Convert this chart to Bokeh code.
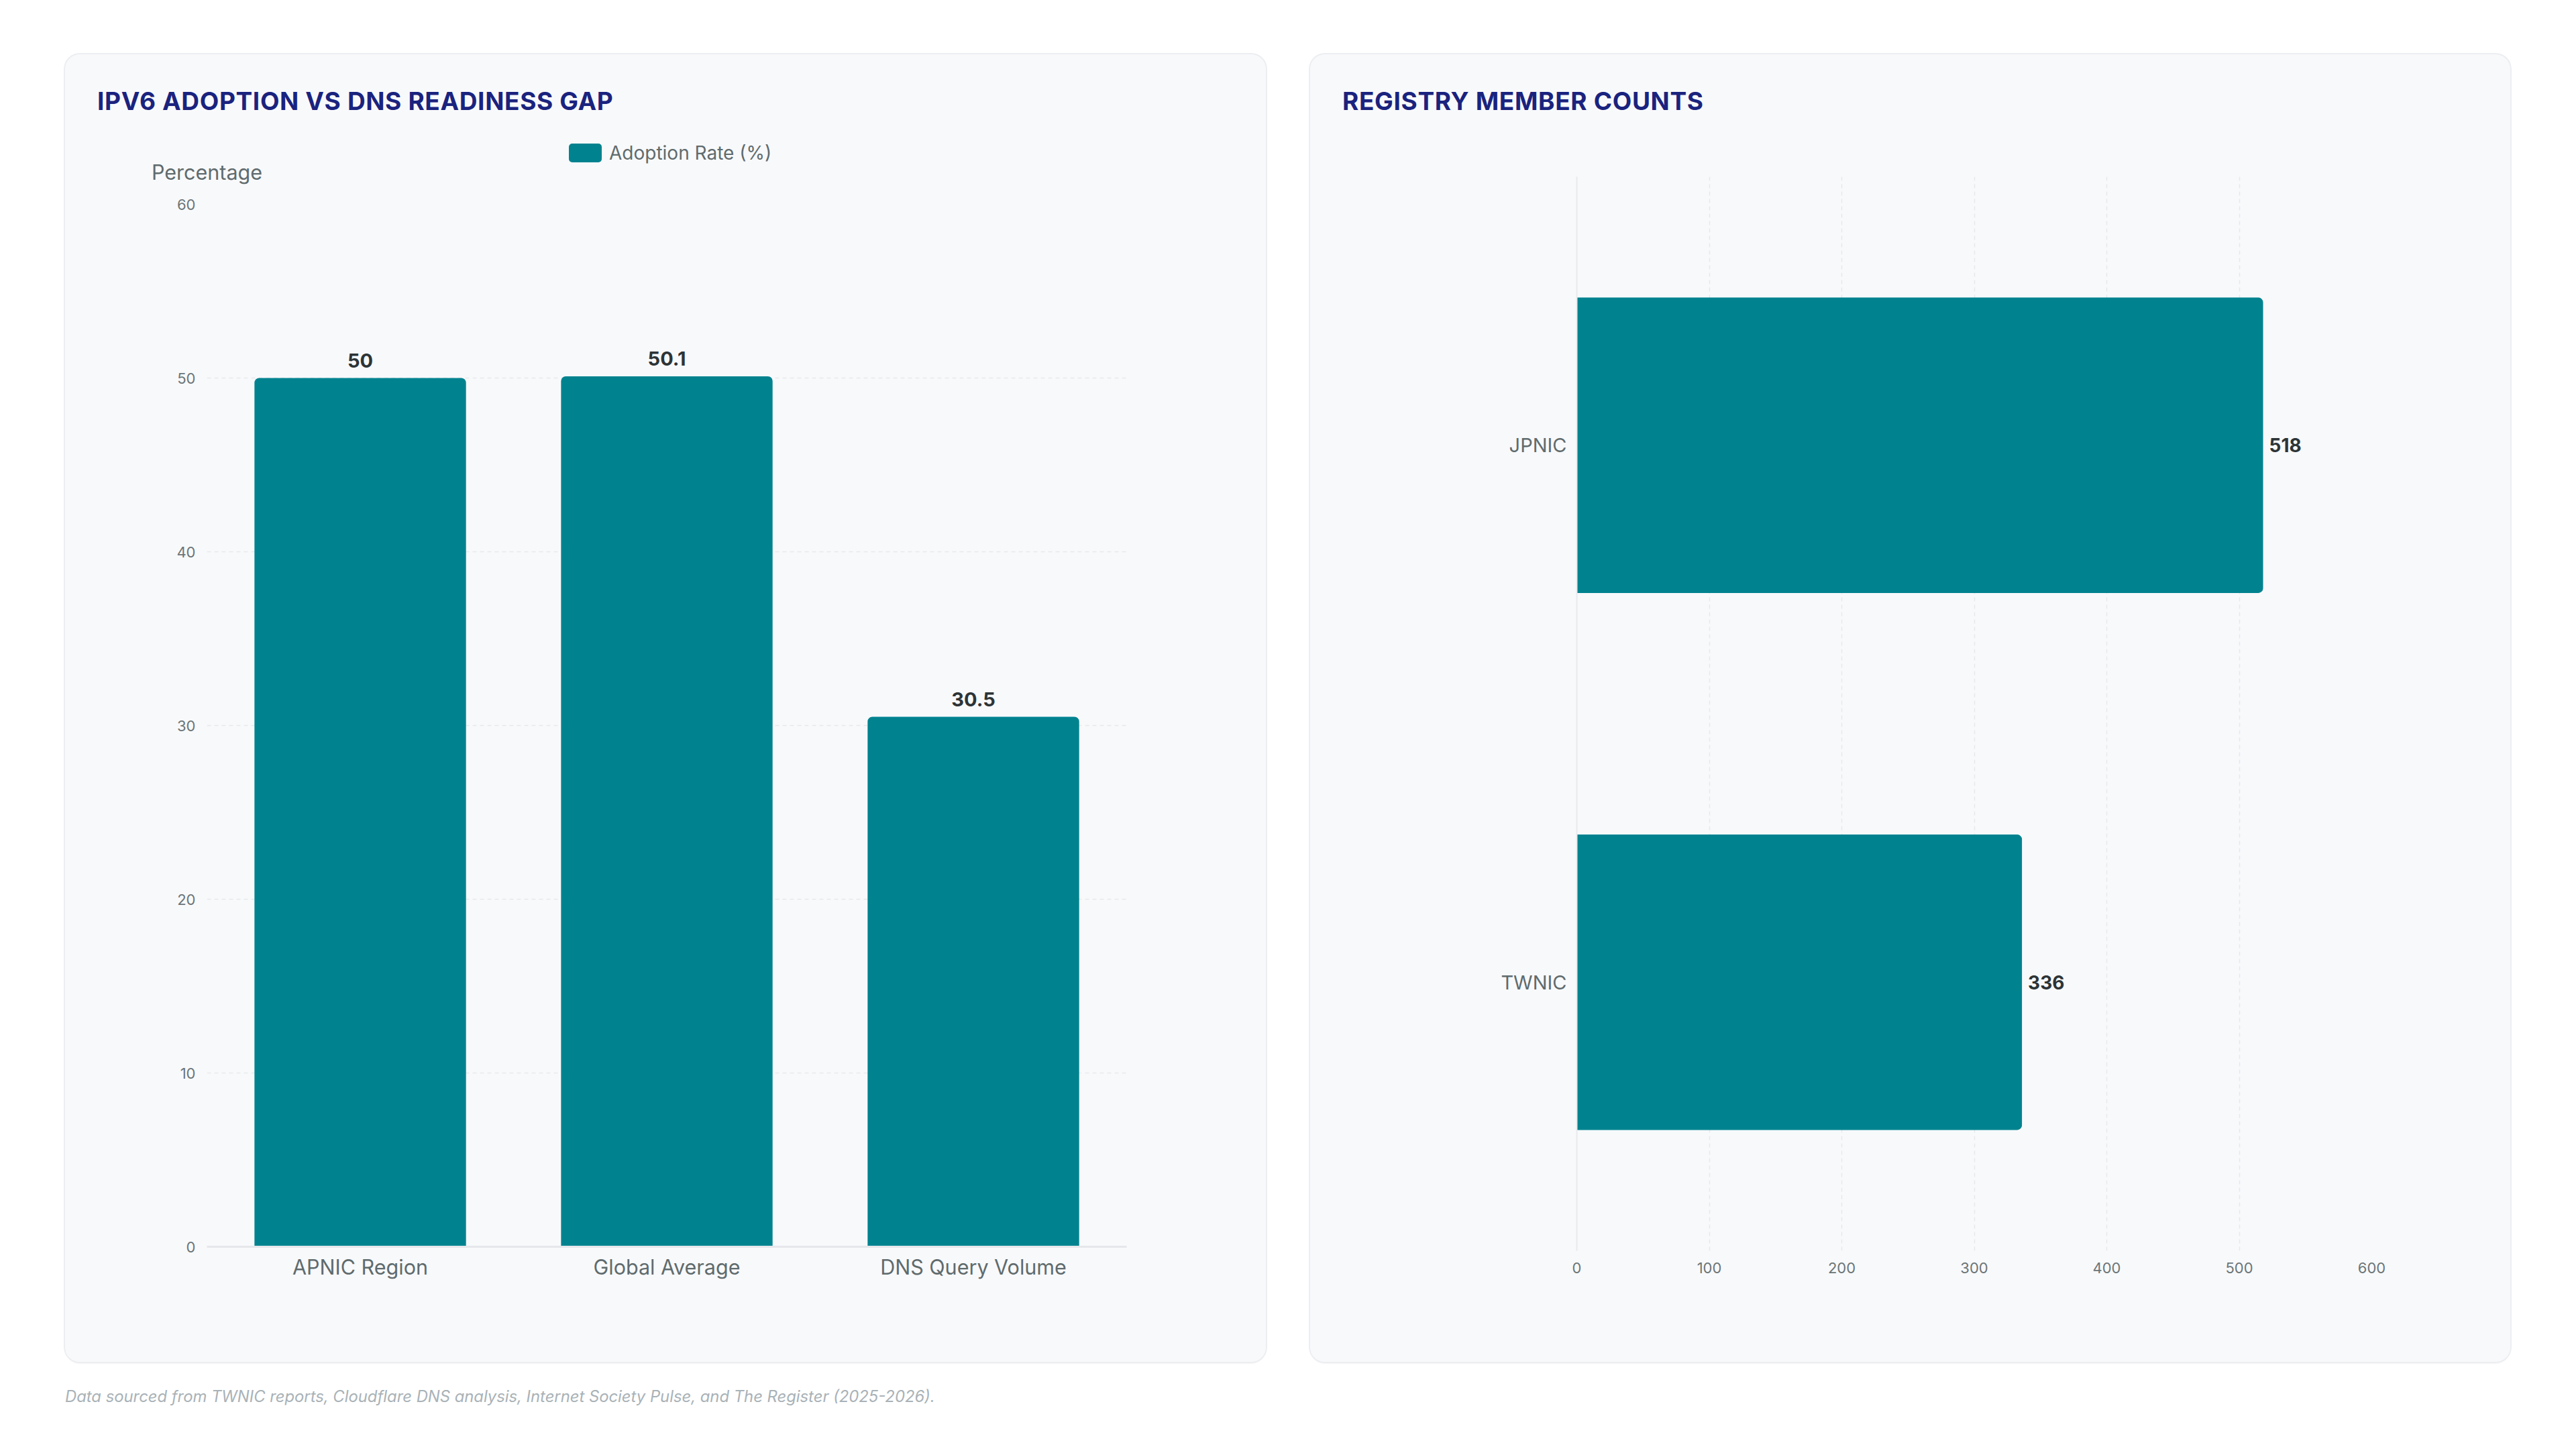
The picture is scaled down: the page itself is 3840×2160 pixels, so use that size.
from bokeh.plotting import figure
from bokeh.models import (ColumnDataSource, FactorRange, Range1d, FixedTicker,
                          LabelSet, Div, GlobalInlineStyleSheet)
from bokeh.core.properties import value
from bokeh.layouts import row, column
from bokeh.embed import file_html
from bokeh.resources import INLINE

# ---- data ----
categories = ["APNIC Region", "Global Average", "DNS Query Volume"]
adoption = [50, 50.1, 30.5]
registries = ["JPNIC", "TWNIC"]
members = [518, 336]
pct_ticks = [0, 10, 20, 30, 40, 50, 60]
count_ticks = [0, 100, 200, 300, 400, 500, 600]

FONT = "Inter"
TEAL = "#00838f"
NAVY = "#1a237e"
CARD = "#f8f9fb"
GREY = "#5f6b6d"
TICK = "#6b7577"
DARK = "#2d3436"
GRID = "#e6e9ec"

card_styles = {"background-color": CARD, "border-radius": "22px", "overflow": "hidden",
               "box-shadow": "0 0 0 2px #eceef1, 0 3px 2px rgba(0,0,0,0.05)"}

TITLE_CSS = ("position:absolute;left:48px;top:0;height:140px;line-height:140px;"
             "font-family:Inter;font-size:37px;font-weight:700;color:%s;"
             "white-space:nowrap;letter-spacing:0.65px;" % NAVY)

# ---- left card ----
header1 = Div(
    text=('<div style="position:relative;width:1790px;height:203px;">'
          f'<div style="{TITLE_CSS}">IPV6 ADOPTION VS DNS READINESS GAP</div>'
          '<div style="position:absolute;left:751px;top:133px;width:49px;height:28px;'
          f'background:{TEAL};border-radius:5px;"></div>'
          '<div style="position:absolute;left:811px;top:133px;height:28px;line-height:28px;'
          f'font-family:Inter;font-size:28px;color:{GREY};white-space:nowrap;">Adoption Rate (%)</div>'
          '<div style="position:absolute;left:129px;top:156px;height:40px;line-height:40px;'
          f'font-family:Inter;font-size:30.5px;color:{GREY};white-space:nowrap;">Percentage</div>'
          '</div>'),
    width=1790, height=203)
header1.margin = 0

src1 = ColumnDataSource(dict(cat=categories, val=adoption,
                             txt=[f"{v:g}" for v in adoption]))
p1 = figure(width=1790, height=1746,
            x_range=FactorRange(factors=categories, range_padding=0),
            y_range=Range1d(0, 60),
            output_backend="svg", toolbar_location=None,
            min_border_left=211, min_border_right=208,
            min_border_top=20, min_border_bottom=172,
            background_fill_color=CARD, border_fill_color=CARD,
            outline_line_color=None)
p1.vbar(x="cat", top="val", width=0.69, source=src1, color=TEAL,
        line_color=None, border_radius=(7, 7, 0, 0))
p1.add_layout(LabelSet(x="cat", y="val", text="txt", source=src1, y_offset=16,
                       text_align="center", text_baseline="bottom",
                       text_font=value(FONT), text_font_size=value("29px"),
                       text_font_style="bold", text_color=DARK))
p1.yaxis.ticker = FixedTicker(ticks=pct_ticks)
p1.yaxis.axis_line_color = None
p1.yaxis.major_tick_line_color = None
p1.yaxis.minor_tick_line_color = None
p1.yaxis.major_label_standoff = 11
p1.yaxis.major_label_text_font = FONT
p1.yaxis.major_label_text_font_size = "22px"
p1.yaxis.major_label_text_color = TICK
p1.xaxis.axis_line_color = "#e5e7eb"
p1.xaxis.axis_line_width = 3
p1.xaxis.major_tick_line_color = None
p1.xaxis.minor_tick_line_color = None
p1.xaxis.major_label_standoff = 5
p1.xaxis.major_label_text_font = FONT
p1.xaxis.major_label_text_font_size = "30.5px"
p1.xaxis.major_label_text_color = GREY
p1.xgrid.grid_line_color = None
p1.ygrid.grid_line_color = GRID
p1.ygrid.grid_line_width = 1.5
p1.ygrid.grid_line_dash = "6 5"

# ---- right card ----
header2 = Div(
    text=('<div style="position:relative;width:1789px;height:162px;">'
          f'<div style="{TITLE_CSS}">REGISTRY MEMBER COUNTS</div></div>'),
    width=1789, height=162)
header2.margin = 0

src2 = ColumnDataSource(dict(reg=registries, val=members,
                             txt=[f"{v:g}" for v in members]))
p2 = figure(width=1789, height=1787,
            y_range=FactorRange(factors=registries[::-1], range_padding=0),
            x_range=Range1d(0, 600),
            output_backend="svg", toolbar_location=None,
            min_border_left=397, min_border_right=207,
            min_border_top=20, min_border_bottom=166,
            background_fill_color=CARD, border_fill_color=CARD,
            outline_line_color=None)
p2.hbar(y="reg", right="val", height=0.55, source=src2, color=TEAL,
        line_color=None, border_radius=(0, 7, 7, 0))
p2.add_layout(LabelSet(x="val", y="reg", text="txt", source=src2, x_offset=9,
                       text_align="left", text_baseline="middle",
                       text_font=value(FONT), text_font_size=value("28px"),
                       text_font_style="bold", text_color=DARK))
p2.xaxis.ticker = FixedTicker(ticks=count_ticks)
p2.xaxis.axis_line_color = None
p2.xaxis.major_tick_line_color = None
p2.xaxis.minor_tick_line_color = None
p2.xaxis.major_label_standoff = 11
p2.xaxis.major_label_text_font = FONT
p2.xaxis.major_label_text_font_size = "22px"
p2.xaxis.major_label_text_color = TICK
p2.yaxis.axis_line_color = "#e8eaed"
p2.yaxis.axis_line_width = 2
p2.yaxis.major_tick_line_color = None
p2.yaxis.minor_tick_line_color = None
p2.yaxis.major_label_standoff = 9
p2.yaxis.major_label_text_font = FONT
p2.yaxis.major_label_text_font_size = "29px"
p2.yaxis.major_label_text_color = GREY
p2.ygrid.grid_line_color = None
p2.xgrid.grid_line_color = GRID
p2.xgrid.grid_line_width = 1.5
p2.xgrid.grid_line_dash = "6 5"

for p in (p1, p2):
    try:
        p.frame_align = False
    except Exception:
        pass

card1 = column(header1, p1, spacing=0)
card1.styles = card_styles
card2 = column(header2, p2, spacing=0)
card2.styles = card_styles

footer = Div(text="Data sourced from TWNIC reports, Cloudflare DNS analysis, "
                  "Internet Society Pulse, and The Register (2025-2026).",
             width=2000, height=30,
             styles={"font-family": FONT, "font-style": "italic",
                     "font-size": "23.8px", "color": "#a9b2b7",
                     "line-height": "30px"})
footer.margin = (37, 0, 0, 0)

root = column(row(card1, card2, spacing=66), footer)
root.margin = (81, 0, 0, 97)
root.stylesheets = [GlobalInlineStyleSheet(css="html, body { margin: 0; padding: 0; background: #ffffff; }")]

open("out.html", "w").write(file_html(root, INLINE))
